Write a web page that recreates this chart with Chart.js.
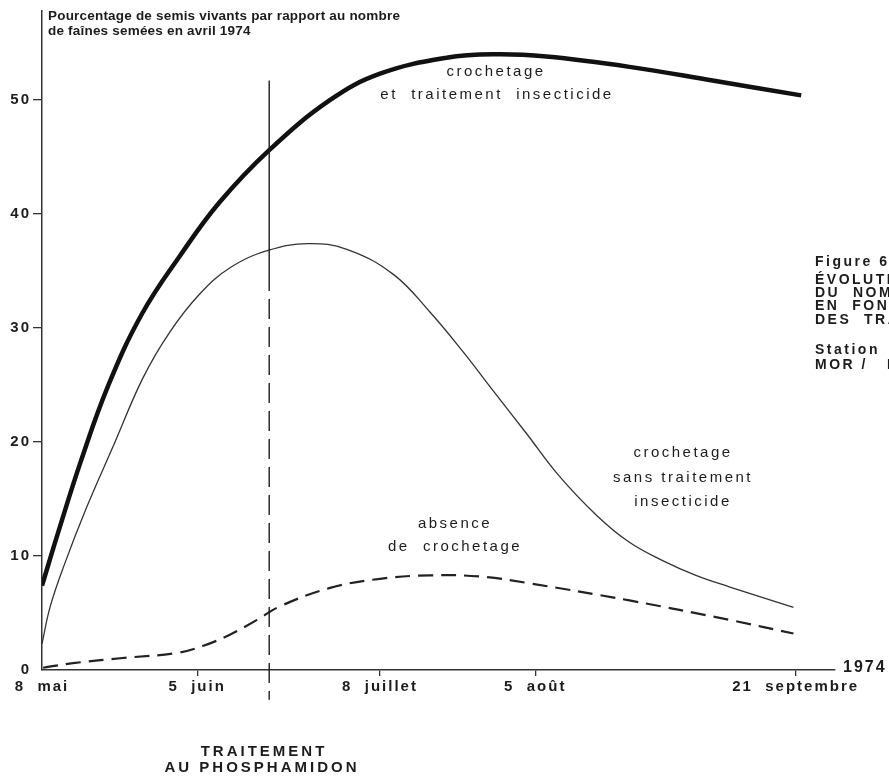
<!DOCTYPE html>
<html>
<head>
<meta charset="utf-8">
<script src="https://cdn.jsdelivr.net/npm/chart.js@4.4.0/dist/chart.umd.min.js"></script>
<style>
  html, body { margin: 0; padding: 0; background: #fff; }
</style>
</head>
<body>
<canvas id="chart" width="889" height="780"></canvas>
<script>
// days counted from 8 May 1974
const dayTicks = [0, 28, 61, 89, 136];
const dayLabels = ['8  mai', '5  juin', '8  juillet', '5  août', '21  septembre'];
const yTicks = [0, 10, 20, 30, 40, 50];

// crochetage et traitement insecticide
const treatedDays = [0, 3, 7, 12, 18, 25, 32, 41, 52, 61, 73, 82, 91, 106, 121, 137];
const treatedValues = [7.4, 12.2, 18.3, 25, 31.2, 36.4, 41, 45.6, 50, 52.3, 53.7, 54, 53.8, 52.9, 51.7, 50.4];

// crochetage sans traitement insecticide
const untreatedDays = [0, 1.5, 4, 8, 13, 18.2, 23, 28.5, 34, 40.8, 48, 55, 63.4, 70, 76, 81.4, 87.5, 93, 100, 106, 112, 118, 124, 135.6];
const untreatedValues = [2.3, 5.6, 9.2, 14.2, 19.8, 25.6, 29.6, 33, 35.3, 36.8, 37.4, 36.9, 34.7, 31.4, 27.9, 24.5, 20.7, 17.2, 13.6, 11.2, 9.6, 8.3, 7.3, 5.5];

// absence de crochetage
const noScarDays = [0.2, 5.6, 14.6, 24.4, 29, 33.9, 38.8, 43, 52, 61, 70, 79, 88, 106, 124, 135.6];
const noScarValues = [0.2, 0.6, 1.05, 1.5, 2.1, 3.1, 4.4, 5.6, 7.2, 8.0, 8.3, 8.2, 7.6, 6.1, 4.4, 3.2];

// phosphamidon treatment date and extent of its marker line
const treatmentDay = 41;
const treatmentTop = 51.7;
const treatmentDashStart = 35;
const treatmentBottom = -2.6;

function toPoints(days, values) {
    return days.map((d, i) => ({ x: d, y: values[i] }));
}

const ink = '#1c1c1c';

const textPlugin = {
    id: 'texts',
    beforeDraw(chart) {
        chart.ctx.letterSpacing = '2px';
    },
    afterDatasetsDraw(chart) {
        const ctx = chart.ctx;
        const x = chart.scales.x;
        const y = chart.scales.y;
        const px = x.getPixelForValue(treatmentDay);
        ctx.save();
        ctx.strokeStyle = ink;
        ctx.lineWidth = 1.4;
        ctx.beginPath();
        ctx.moveTo(px, y.getPixelForValue(treatmentTop));
        ctx.lineTo(px, y.getPixelForValue(treatmentDashStart));
        ctx.stroke();
        ctx.setLineDash([20, 8]);
        ctx.beginPath();
        ctx.moveTo(px, y.getPixelForValue(treatmentDashStart));
        ctx.lineTo(px, y.getPixelForValue(treatmentBottom));
        ctx.stroke();
        ctx.restore();
    },
    afterDraw(chart) {
        const ctx = chart.ctx;
        ctx.save();
        ctx.fillStyle = ink;
        ctx.textBaseline = 'alphabetic';
        ctx.letterSpacing = '0.2px';
        ctx.font = 'bold 13.5px "Liberation Sans"';
        ctx.textAlign = 'left';
        ctx.fillText('Pourcentage de semis vivants par rapport au nombre', 48, 20);
        ctx.fillText('de faînes semées en avril 1974', 48, 35);

        ctx.textBaseline = 'middle';
        ctx.textAlign = 'center';
        ctx.letterSpacing = '2.5px';
        ctx.font = '15px "Liberation Sans"';
        ctx.fillText('crochetage', 496, 72);
        ctx.fillText('et  traitement  insecticide', 497, 95);
        ctx.fillText('crochetage', 683, 453);
        ctx.fillText('sans traitement', 683, 478);
        ctx.fillText('insecticide', 683, 502);
        ctx.fillText('absence', 455, 524);
        ctx.fillText('de  crochetage', 455, 547);

        ctx.letterSpacing = '3px';
        ctx.font = 'bold 15px "Liberation Sans"';
        ctx.fillText('TRAITEMENT', 264, 752);
        ctx.fillText('AU PHOSPHAMIDON', 262, 768);

        ctx.textAlign = 'left';
        ctx.letterSpacing = '2px';
        ctx.font = 'bold 16px "Liberation Sans"';
        ctx.fillText('1974', 843, 668);

        ctx.letterSpacing = '2.5px';
        ctx.font = 'bold 14px "Liberation Sans"';
        ctx.fillText('Figure 6', 815, 262);
        ctx.fillText('ÉVOLUTION', 815, 280);
        ctx.fillText('DU  NOMBRE', 815, 293);
        ctx.fillText('EN  FONCTION', 815, 306);
        ctx.fillText('DES  TRAITEMENTS', 815, 320);
        ctx.fillText('Station', 815, 350);
        ctx.fillText('MOR /   MULL', 815, 365);
        ctx.restore();
    }
};

new Chart(document.getElementById('chart'), {
    type: 'line',
    data: {
        datasets: [
            {
                label: 'crochetage et traitement insecticide',
                data: toPoints(treatedDays, treatedValues),
                borderColor: '#111',
                borderWidth: 4.5,
                pointRadius: 0,
                tension: 0.4,
                fill: false,
            },
            {
                label: 'crochetage sans traitement insecticide',
                data: toPoints(untreatedDays, untreatedValues),
                borderColor: '#333',
                borderWidth: 1.3,
                pointRadius: 0,
                tension: 0.4,
                fill: false,
            },
            {
                label: 'absence de crochetage',
                data: toPoints(noScarDays, noScarValues),
                borderColor: '#222',
                borderWidth: 2.2,
                borderDash: [15, 8],
                pointRadius: 0,
                tension: 0.4,
                fill: false,
            },
        ],
    },
    options: {
        responsive: false,
        animation: false,
        devicePixelRatio: 1,
        layout: { padding: { left: 0, top: 8, right: 54, bottom: 0 } },
        plugins: {
            legend: { display: false },
            tooltip: { enabled: false },
        },
        scales: {
            x: {
                type: 'linear',
                min: 0,
                max: 143.1,
                afterFit(scale) { scale.height = 110; },
                afterBuildTicks(scale) { scale.ticks = dayTicks.map(v => ({ value: v })); },
                border: { display: true, color: '#333', width: 1.5 },
                grid: {
                    drawOnChartArea: false,
                    tickLength: 6,
                    lineWidth: 1.3,
                    color: c => (c.tick && c.tick.value === 0 ? 'rgba(0,0,0,0)' : '#333'),
                },
                ticks: {
                    callback: v => dayLabels[dayTicks.indexOf(v)],
                    autoSkip: false,
                    maxRotation: 0,
                    padding: 2,
                    color: ink,
                    font: { family: 'Liberation Sans', size: 15, weight: 'bold' },
                },
            },
            y: {
                min: 0,
                max: 57.8,
                afterFit(scale) { scale.width = 42; },
                afterBuildTicks(scale) { scale.ticks = yTicks.map(v => ({ value: v })); },
                border: { display: true, color: '#333', width: 1.5 },
                grid: {
                    drawOnChartArea: false,
                    tickLength: 9,
                    lineWidth: 1.3,
                    color: c => (c.tick && c.tick.value === 0 ? 'rgba(0,0,0,0)' : '#333'),
                },
                ticks: {
                    padding: 2,
                    color: ink,
                    font: { family: 'Liberation Sans', size: 15, weight: 'bold' },
                },
            },
        },
    },
    plugins: [textPlugin],
});
</script>
</body>
</html>
